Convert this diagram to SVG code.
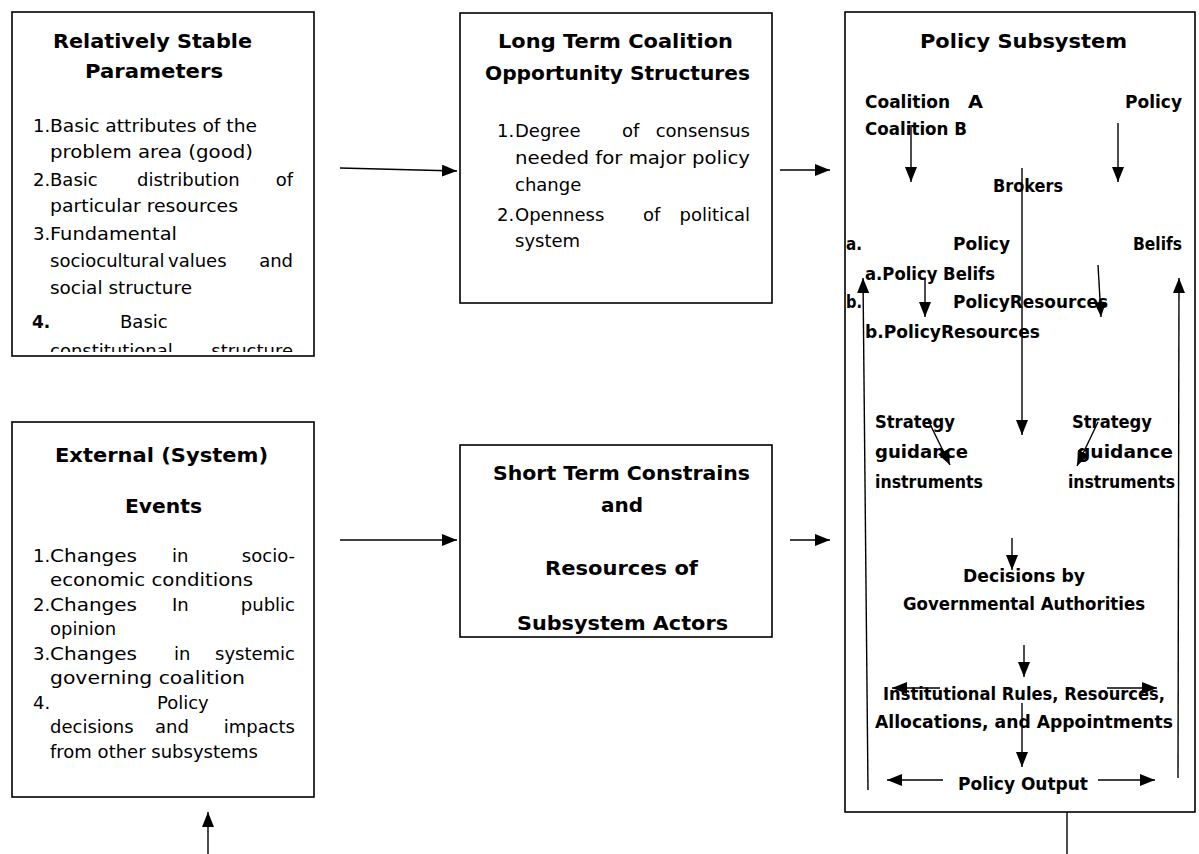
<svg xmlns="http://www.w3.org/2000/svg" width="1199" height="854" viewBox="0 0 1199 854">
<style>
.box{fill:#fff;stroke:#000;stroke-width:1.6}
.t{font-family:"DejaVu Sans","Liberation Sans",sans-serif;font-size:18px;fill:#000}
.b{font-family:"DejaVu Sans","Liberation Sans",sans-serif;font-weight:bold;font-size:17px;fill:#000}
.h{font-size:20px}
.e{text-anchor:end}
.m{text-anchor:middle}
.c{stroke:#000;stroke-width:1.4;fill:none}
</style>
<defs>
<marker id="ah" viewBox="0 0 15 12" refX="15" refY="6" markerWidth="15" markerHeight="12" markerUnits="userSpaceOnUse" orient="auto"><path d="M0,0 L15,6 L0,12 z" fill="#000"/></marker>
<clipPath id="clip1"><rect x="12" y="12" width="302" height="340"/></clipPath>
<clipPath id="clip5"><rect x="460" y="445" width="312" height="189"/></clipPath>
</defs>
<rect width="1199" height="854" fill="#fff"/>

<g id="stable-parameters">
<rect class="box" x="12" y="12" width="302" height="344"/>
<g clip-path="url(#clip1)">
<text class="b h" x="53" y="48" textLength="199" lengthAdjust="spacingAndGlyphs">Relatively Stable</text>
<text class="b h" x="85" y="78" textLength="138" lengthAdjust="spacingAndGlyphs">Parameters</text>
<text class="t" x="33" y="132">1.</text>
<text class="t" x="50" y="132" textLength="207" lengthAdjust="spacingAndGlyphs">Basic attributes of the</text>
<text class="t" x="50" y="158" textLength="203" lengthAdjust="spacingAndGlyphs">problem area (good)</text>
<text class="t" x="33" y="186">2.</text>
<text class="t" x="50" y="186">Basic</text>
<text class="t" x="137" y="186">distribution</text>
<text class="t e" x="293" y="186">of</text>
<text class="t" x="50" y="212" textLength="188" lengthAdjust="spacingAndGlyphs">particular resources</text>
<text class="t" x="33" y="240">3.</text>
<text class="t" x="50" y="240" textLength="127" lengthAdjust="spacingAndGlyphs">Fundamental</text>
<text class="t" x="50" y="267">sociocultural</text>
<text class="t" x="168" y="267">values</text>
<text class="t e" x="293" y="267">and</text>
<text class="t" x="50" y="294" textLength="142" lengthAdjust="spacingAndGlyphs">social structure</text>
<text class="b" x="32" y="328">4.</text>
<text class="t" x="120" y="328">Basic</text>
<text class="t" x="50" y="357">constitutional</text>
<text class="t e" x="293" y="357">structure</text>
</g>
</g>

<g id="long-term">
<rect class="box" x="460" y="13" width="312" height="290"/>
<text class="b h" x="498" y="48" textLength="235" lengthAdjust="spacingAndGlyphs">Long Term Coalition</text>
<text class="b h" x="485" y="80" textLength="265" lengthAdjust="spacingAndGlyphs">Opportunity Structures</text>
<text class="t" x="497" y="137">1.</text>
<text class="t" x="515" y="137">Degree</text>
<text class="t" x="622" y="137">of</text>
<text class="t e" x="750" y="137">consensus</text>
<text class="t" x="515" y="164" textLength="235" lengthAdjust="spacingAndGlyphs">needed for major policy</text>
<text class="t" x="515" y="191">change</text>
<text class="t" x="497" y="221">2.</text>
<text class="t" x="515" y="221">Openness</text>
<text class="t" x="643" y="221">of</text>
<text class="t e" x="750" y="221">political</text>
<text class="t" x="515" y="247">system</text>
</g>

<g id="external-events">
<rect class="box" x="12" y="422" width="302" height="375"/>
<text class="b h" x="55" y="462" textLength="213" lengthAdjust="spacingAndGlyphs">External (System)</text>
<text class="b h" x="125" y="513" textLength="77" lengthAdjust="spacingAndGlyphs">Events</text>
<text class="t" x="33" y="562">1.</text>
<text class="t" x="50" y="562" textLength="87" lengthAdjust="spacingAndGlyphs">Changes</text>
<text class="t" x="172" y="562">in</text>
<text class="t e" x="295" y="562">socio-</text>
<text class="t" x="50" y="586" textLength="203" lengthAdjust="spacingAndGlyphs">economic conditions</text>
<text class="t" x="33" y="611">2.</text>
<text class="t" x="50" y="611" textLength="87" lengthAdjust="spacingAndGlyphs">Changes</text>
<text class="t" x="172" y="611">In</text>
<text class="t e" x="295" y="611">public</text>
<text class="t" x="50" y="635">opinion</text>
<text class="t" x="33" y="660">3.</text>
<text class="t" x="50" y="660" textLength="87" lengthAdjust="spacingAndGlyphs">Changes</text>
<text class="t" x="174" y="660">in</text>
<text class="t e" x="295" y="660">systemic</text>
<text class="t" x="50" y="684" textLength="195" lengthAdjust="spacingAndGlyphs">governing coalition</text>
<text class="t" x="33" y="709">4.</text>
<text class="t" x="157" y="709">Policy</text>
<text class="t" x="50" y="733">decisions</text>
<text class="t" x="155" y="733">and</text>
<text class="t e" x="295" y="733">impacts</text>
<text class="t" x="50" y="758" textLength="208" lengthAdjust="spacingAndGlyphs">from other subsystems</text>
</g>

<g id="short-term">
<rect class="box" x="460" y="445" width="312" height="192"/>
<g clip-path="url(#clip5)">
<text class="b h" x="493" y="480" textLength="257" lengthAdjust="spacingAndGlyphs">Short Term Constrains</text>
<text class="b h m" x="622" y="512">and</text>
<text class="b h" x="545" y="575" textLength="153" lengthAdjust="spacingAndGlyphs">Resources of</text>
<text class="b h" x="517" y="630" textLength="211" lengthAdjust="spacingAndGlyphs">Subsystem Actors</text>
</g>
</g>

<g id="policy-subsystem">
<rect class="box" x="845" y="12" width="350" height="800"/>
<text class="b h" x="920" y="48" textLength="207" lengthAdjust="spacingAndGlyphs">Policy Subsystem</text>
<text class="b" x="865" y="108" textLength="85" lengthAdjust="spacingAndGlyphs">Coalition</text>
<text class="b" x="968" y="108" textLength="15" lengthAdjust="spacingAndGlyphs">A</text>
<text class="b" x="1125" y="108" textLength="57" lengthAdjust="spacingAndGlyphs">Policy</text>
<text class="b" x="865" y="135" textLength="102" lengthAdjust="spacingAndGlyphs">Coalition B</text>
<text class="b" x="993" y="192" textLength="70" lengthAdjust="spacingAndGlyphs">Brokers</text>
<text class="b" x="846" y="250" textLength="16" lengthAdjust="spacingAndGlyphs">a.</text>
<text class="b" x="953" y="250" textLength="57" lengthAdjust="spacingAndGlyphs">Policy</text>
<text class="b" x="1133" y="250" textLength="49" lengthAdjust="spacingAndGlyphs">Belifs</text>
<text class="b" x="865" y="280" textLength="130" lengthAdjust="spacingAndGlyphs">a.Policy Belifs</text>
<text class="b" x="846" y="308" textLength="16" lengthAdjust="spacingAndGlyphs">b.</text>
<text class="b" x="953" y="308" textLength="155" lengthAdjust="spacingAndGlyphs">PolicyResources</text>
<text class="b" x="865" y="338" textLength="175" lengthAdjust="spacingAndGlyphs">b.PolicyResources</text>
<text class="b" x="875" y="428" textLength="80" lengthAdjust="spacingAndGlyphs">Strategy</text>
<text class="b" x="875" y="458" textLength="93" lengthAdjust="spacingAndGlyphs">guidance</text>
<text class="b" x="875" y="488" textLength="108" lengthAdjust="spacingAndGlyphs">instruments</text>
<text class="b" x="1072" y="428" textLength="80" lengthAdjust="spacingAndGlyphs">Strategy</text>
<text class="b" x="1077" y="458" textLength="96" lengthAdjust="spacingAndGlyphs">guidance</text>
<text class="b" x="1068" y="488" textLength="107" lengthAdjust="spacingAndGlyphs">instruments</text>
<text class="b" x="963" y="582" textLength="122" lengthAdjust="spacingAndGlyphs">Decisions by</text>
<text class="b" x="903" y="610" textLength="242" lengthAdjust="spacingAndGlyphs">Governmental Authorities</text>
<text class="b" x="883" y="700" textLength="282" lengthAdjust="spacingAndGlyphs">Institutional Rules, Resources,</text>
<text class="b" x="875" y="728" textLength="298" lengthAdjust="spacingAndGlyphs">Allocations, and Appointments</text>
<text class="b" x="958" y="790" textLength="130" lengthAdjust="spacingAndGlyphs">Policy Output</text>
</g>

<g id="connectors">
<line class="c" x1="340" y1="168" x2="457" y2="171" marker-end="url(#ah)"/>
<line class="c" x1="780" y1="170" x2="830" y2="170" marker-end="url(#ah)"/>
<line class="c" x1="340" y1="540" x2="457" y2="540" marker-end="url(#ah)"/>
<line class="c" x1="790" y1="540" x2="830" y2="540" marker-end="url(#ah)"/>
<line class="c" x1="208" y1="854" x2="208" y2="812" marker-end="url(#ah)"/>
<line class="c" x1="1067" y1="812" x2="1067" y2="854"/>
<line class="c" x1="911" y1="125" x2="911" y2="182" marker-end="url(#ah)"/>
<line class="c" x1="1118" y1="123" x2="1118" y2="182" marker-end="url(#ah)"/>
<line class="c" x1="1022" y1="168" x2="1022" y2="435" marker-end="url(#ah)"/>
<line class="c" x1="925" y1="278" x2="925" y2="317" marker-end="url(#ah)"/>
<line class="c" x1="1098" y1="265" x2="1101" y2="317" marker-end="url(#ah)"/>
<line class="c" x1="868" y1="790" x2="863" y2="278" marker-end="url(#ah)"/>
<line class="c" x1="1178" y1="778" x2="1179" y2="278" marker-end="url(#ah)"/>
<line class="c" x1="928" y1="420" x2="950" y2="465" marker-end="url(#ah)"/>
<line class="c" x1="1098" y1="422" x2="1077" y2="466" marker-end="url(#ah)"/>
<line class="c" x1="1012" y1="538" x2="1012" y2="570" marker-end="url(#ah)"/>
<line class="c" x1="1024" y1="645" x2="1024" y2="677" marker-end="url(#ah)"/>
<line class="c" x1="940" y1="688" x2="892" y2="688" marker-end="url(#ah)"/>
<line class="c" x1="1107" y1="688" x2="1157" y2="688" marker-end="url(#ah)"/>
<line class="c" x1="1022" y1="703" x2="1022" y2="767" marker-end="url(#ah)"/>
<line class="c" x1="943" y1="780" x2="887" y2="780" marker-end="url(#ah)"/>
<line class="c" x1="1098" y1="780" x2="1155" y2="780" marker-end="url(#ah)"/>
</g>
</svg>
